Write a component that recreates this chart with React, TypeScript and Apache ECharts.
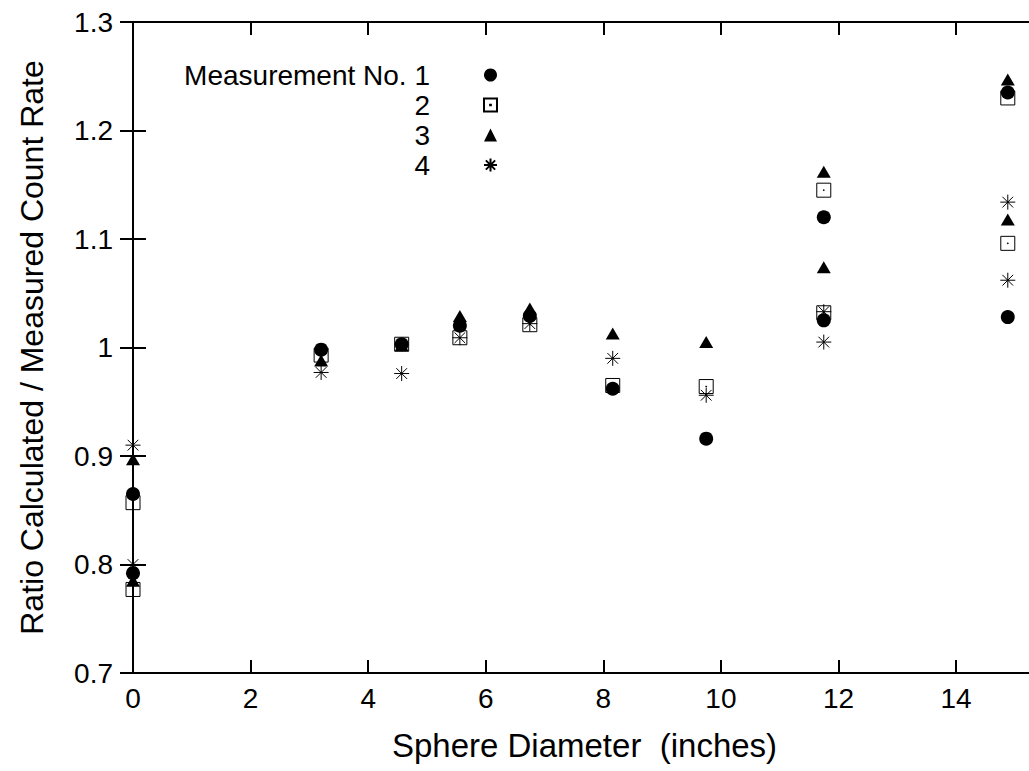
import React, { useEffect, useRef } from "react";
import * as echarts from "echarts";

// Sphere diameters (inches); two groups of measurements at 0, 11.75 and 14.88
const diameters = [0, 0, 3.2, 4.57, 5.56, 6.75, 8.16, 9.75, 11.75, 11.75, 14.88, 14.88];
const measurement1 = [0.865, 0.792, 0.998, 1.003, 1.02, 1.029, 0.962, 0.916, 1.12, 1.025, 1.235, 1.028];
const measurement2 = [0.857, 0.777, 0.993, 1.003, 1.009, 1.021, 0.965, 0.964, 1.145, 1.032, 1.23, 1.096];
const measurement3 = [0.897, 0.785, 0.988, 1.002, 1.029, 1.036, 1.013, 1.005, 1.162, 1.074, 1.247, 1.118];
const measurement4 = [0.91, 0.8, 0.977, 0.976, 1.009, 1.022, 0.99, 0.956, 1.033, 1.005, 1.134, 1.062];
const seriesNames = ["1", "2", "3", "4"];
const xTicks = [0, 2, 4, 6, 8, 10, 12, 14];

const FONT = "'Liberation Sans', Arial, Helvetica, sans-serif";
const SQUARE = "path://M-7 -7 L7 -7 L7 7 L-7 7 Z M-0.4 -0.4 L0.4 -0.4 L0.4 0.4 L-0.4 0.4 Z";
const STAR = "path://M0 -7 L0 7 M-7 0 L7 0 M-5 -5 L5 5 M-5 5 L5 -5 M-0.4 -0.4 L0.4 0.4";

export default function App() {
  const ref = useRef<HTMLDivElement>(null);
  useEffect(() => {
    if (!ref.current) return;
    const chart = echarts.init(ref.current, null, { renderer: "svg" });
    const pairs = (vals: number[]) => vals.map((v, i) => [diameters[i], v]);
    const axisCommon = {
      axisLine: { show: true, lineStyle: { color: "#000", width: 2 } },
      axisTick: { show: true, inside: true, length: 13, lineStyle: { color: "#000", width: 2 } },
      splitLine: { show: false },
    };
    const xCommon = { type: "value", min: 0, max: 15.36, interval: 2, ...axisCommon };
    const yCommon = { type: "value", min: 0.7, max: 1.3, interval: 0.1, ...axisCommon };
    const solid = { opacity: 1 };
    chart.setOption({
      animation: false,
      backgroundColor: "#fff",
      textStyle: { fontFamily: FONT },
      grid: {
        left: 133,
        top: 22,
        right: -7,
        bottom: 98,
        containLabel: false,
        outerBoundsMode: "none",
      },
      legend: {
        orient: "vertical",
        left: 170,
        top: 61,
        padding: 0,
        itemGap: 2,
        align: "right",
        itemWidth: 13,
        itemHeight: 13,
        selectedMode: false,
        data: seriesNames,
        formatter: (name: string) => (name === "1" ? "Measurement No. 1" : name),
        textStyle: {
          fontFamily: FONT,
          fontSize: 28,
          color: "#000",
          width: 260,
          lineHeight: 26,
          padding: [0, 49, 0, 0],
        },
      },
      xAxis: [
        {
          ...xCommon,
          position: "bottom",
          name: "Sphere Diameter  (inches)",
          nameLocation: "middle",
          nameGap: 56,
          nameTextStyle: { fontFamily: FONT, fontSize: 33, color: "#000" },
          axisLabel: {
            fontFamily: FONT,
            fontSize: 28,
            color: "#000",
            margin: 11,
            showMaxLabel: false,
            formatter: (v: number) => (xTicks.includes(v) ? String(v) : ""),
          },
        },
        { ...xCommon, position: "top", axisLabel: { show: false } },
      ],
      yAxis: [
        {
          ...yCommon,
          position: "left",
          name: "Ratio Calculated / Measured Count Rate",
          nameLocation: "middle",
          nameGap: 85,
          nameTextStyle: { fontFamily: FONT, fontSize: 32, color: "#000" },
          axisLabel: {
            fontFamily: FONT,
            fontSize: 28,
            color: "#000",
            margin: 20,
            formatter: (v: number) => String(Math.round(v * 10) / 10),
          },
        },
        { ...yCommon, position: "right", axisLabel: { show: false } },
      ],
      series: [
        {
          name: seriesNames[0],
          type: "scatter",
          symbol: "circle",
          symbolSize: 14,
          itemStyle: { color: "#000", ...solid },
          data: pairs(measurement1),
        },
        {
          name: seriesNames[1],
          type: "scatter",
          symbol: SQUARE,
          symbolSize: 14,
          itemStyle: { color: "rgba(0,0,0,0)", borderColor: "#000", borderWidth: 1, ...solid },
          data: pairs(measurement2),
        },
        {
          name: seriesNames[2],
          type: "scatter",
          symbol: "triangle",
          symbolSize: [14, 12],
          itemStyle: { color: "#000", ...solid },
          data: pairs(measurement3),
        },
        {
          name: seriesNames[3],
          type: "scatter",
          symbol: STAR,
          symbolSize: 15,
          itemStyle: { color: "rgba(0,0,0,0)", borderColor: "#000", borderWidth: 1, ...solid },
          data: pairs(measurement4),
        },
      ],
    });
    return () => chart.dispose();
  }, []);
  return (
    <div
      ref={ref}
      style={{ position: "absolute", left: 0, top: 0, width: 1029, height: 771, background: "#fff" }}
    />
  );
}
